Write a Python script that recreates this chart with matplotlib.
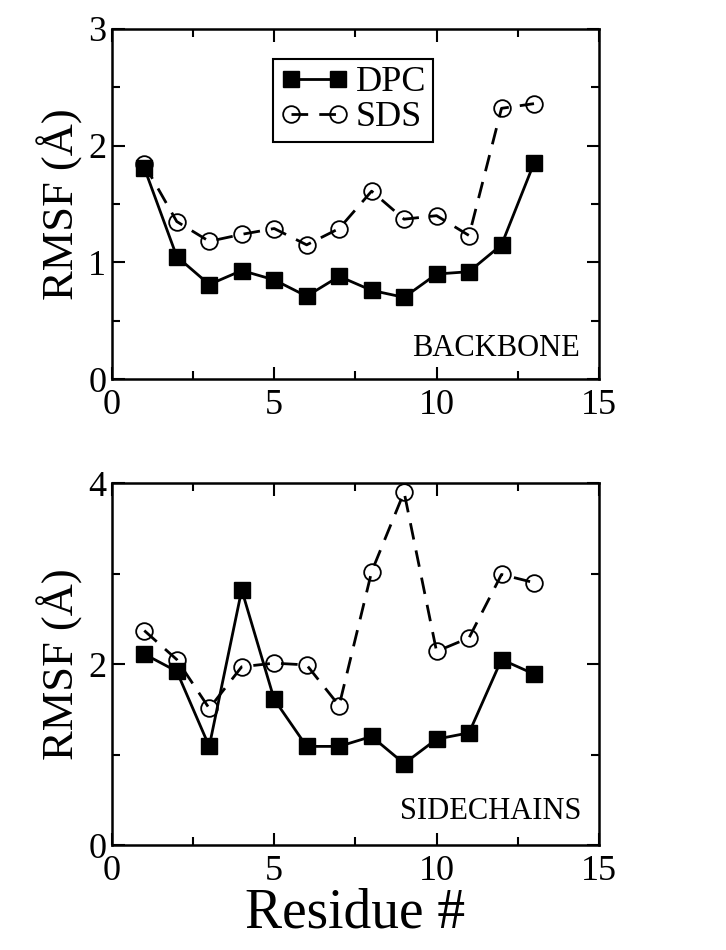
import numpy as np
import matplotlib as mpl
mpl.use('Agg')
mpl.rcParams['font.family'] = ['Liberation Serif', 'DejaVu Serif']
import matplotlib.pyplot as plt
from matplotlib.ticker import MultipleLocator

residue = [1, 2, 3, 4, 5, 6, 7, 8, 9, 10, 11, 12, 13]

# backbone RMSF (A)
bb_dpc = [1.81, 1.05, 0.81, 0.93, 0.85, 0.71, 0.88, 0.76, 0.70, 0.90, 0.92, 1.15, 1.85]
bb_sds = [1.84, 1.35, 1.18, 1.24, 1.29, 1.15, 1.29, 1.61, 1.37, 1.40, 1.23, 2.32, 2.36]

# sidechain RMSF (A)
sc_dpc = [2.11, 1.92, 1.09, 2.82, 1.61, 1.09, 1.09, 1.20, 0.90, 1.17, 1.24, 2.05, 1.89]
sc_sds = [2.37, 2.05, 1.51, 1.97, 2.01, 1.99, 1.54, 3.02, 3.90, 2.14, 2.29, 2.99, 2.90]

fig = plt.figure(figsize=(7.26, 9.5), dpi=100)
ax1 = fig.add_axes([0.154, 0.601, 0.671, 0.3685])
ax2 = fig.add_axes([0.154, 0.1105, 0.671, 0.381])

def style(ax, ymax, ymaj, ymin):
	ax.set_xlim(0, 15)
	ax.set_ylim(0, ymax)
	ax.xaxis.set_major_locator(MultipleLocator(5))
	ax.xaxis.set_minor_locator(MultipleLocator(2.5))
	ax.yaxis.set_major_locator(MultipleLocator(ymaj))
	ax.yaxis.set_minor_locator(MultipleLocator(ymin))
	ax.tick_params(which='both', direction='in', top=True, right=True, width=1.5, labelsize=26, pad=4)
	ax.tick_params(axis='x', which='major', pad=7)
	ax.tick_params(which='major', length=9)
	ax.tick_params(which='minor', length=6)
	for s in ax.spines.values():
		s.set_linewidth(1.8)
	ax.set_ylabel('RMSF (Å)', fontsize=32, labelpad=4)

def draw(ax, dpc, sds):
	ax.plot(residue, dpc, '-', color='black', lw=2, marker='s', ms=11,
		mfc='black', mec='black', label='DPC')
	ax.plot(residue, sds, '--', color='black', lw=2, dashes=(6, 4), marker='o', ms=12,
		mfc='none', mec='black', mew=1.3, label='SDS')

draw(ax1, bb_dpc, bb_sds)
style(ax1, 3, 1, 0.5)
ax1.text(14.4, 0.2, 'BACKBONE', fontsize=22, ha='right', va='baseline')
leg = ax1.legend(loc='upper left', bbox_to_anchor=(0.33, 0.915), fontsize=26, numpoints=2,
	handlelength=1.9, handletextpad=0.2, borderpad=0.2, labelspacing=0.05,
	fancybox=False, edgecolor='black', framealpha=1, borderaxespad=0)
leg.get_frame().set_linewidth(1.5)

draw(ax2, sc_dpc, sc_sds)
style(ax2, 4, 2, 1)
ax2.text(14.45, 0.29, 'SIDECHAINS', fontsize=22, ha='right', va='baseline')
ax2.set_xlabel('Residue #', fontsize=40, labelpad=0)

fig.savefig('out.png', dpi=100)
